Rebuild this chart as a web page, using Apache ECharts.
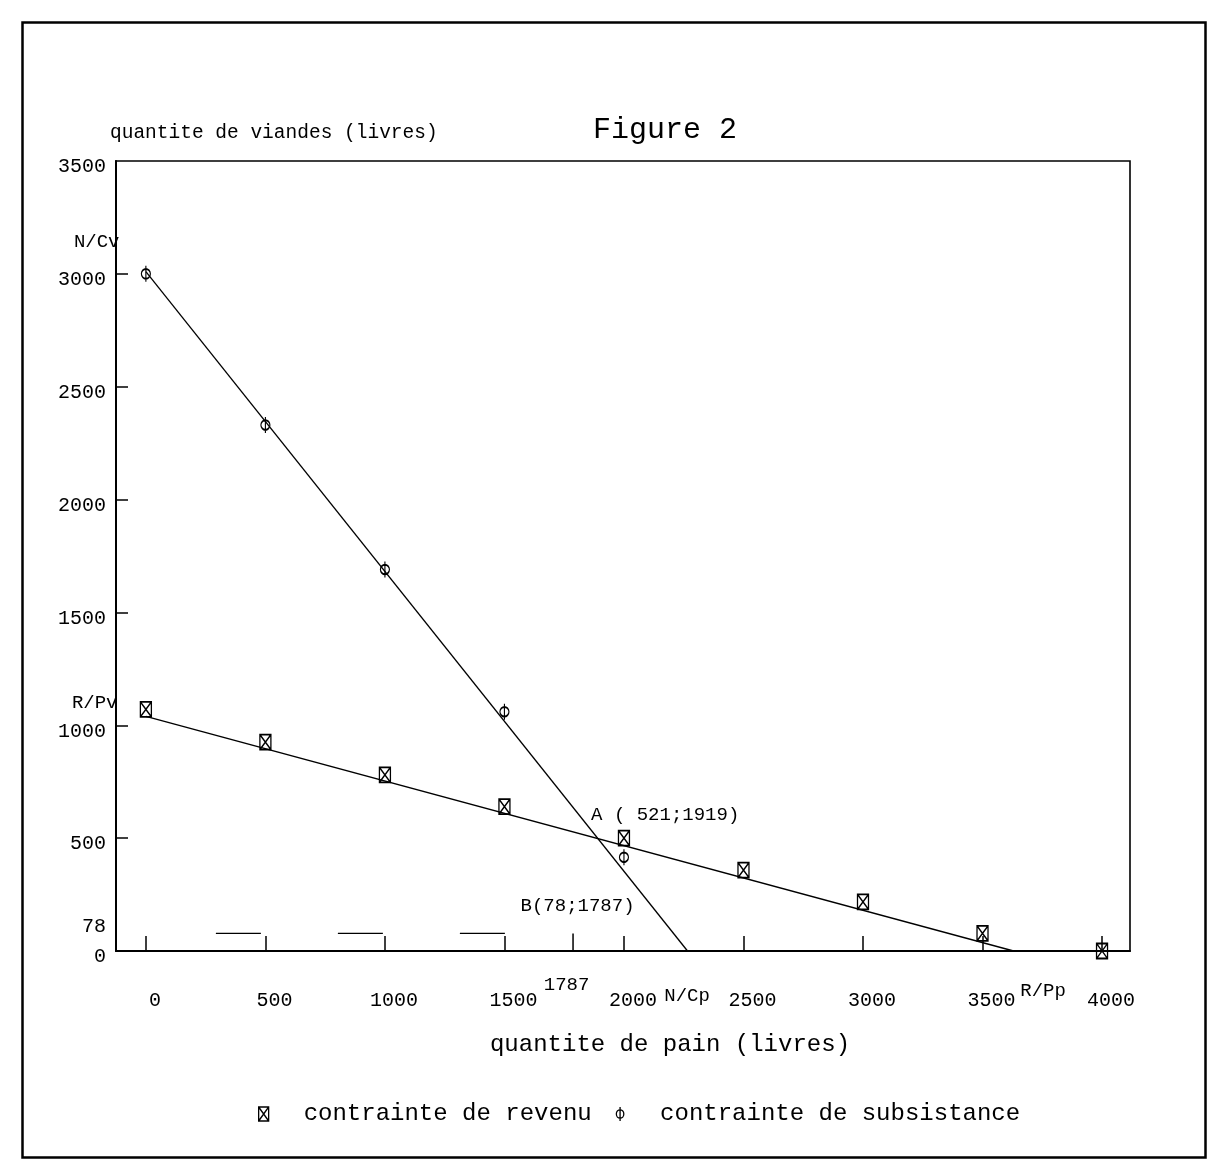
<!DOCTYPE html>
<html>
<head>
<meta charset="utf-8">
<title>Figure 2</title>
<script src="https://cdn.jsdelivr.net/npm/echarts@6/dist/echarts.min.js"></script>
<style>
html, body { margin: 0; padding: 0; background: #fff; }
#container { width: 1216px; height: 1162px; }
</style>
</head>
<body>
<div id="container"></div>
<script>
// axes
var breadTicks = [0, 500, 1000, 1500, 2000, 2500, 3000, 3500, 4000];	// quantite de pain
var meatLabels = [0, 78, 500, 1000, 1500, 2000, 2500, 3000, 3500];		// quantite de viandes
var meatTicks = [500, 1000, 1500, 2000, 2500, 3000];

// contrainte de revenu (points)
var revenuX = [0, 500, 1000, 1500, 2000, 2500, 3000, 3500, 4000];
var revenuY = [1070, 925, 780, 640, 500, 358, 218, 78, 0];
// contrainte de subsistance (points)
var subsistX = [0, 500, 1000, 1500, 2000];
var subsistY = [3000, 2330, 1690, 1060, 415];

// droites tracees
var revenuLineX = [0, 3630];
var revenuLineY = [1040, 0];
var subsistLineX = [0, 2266];
var subsistLineY = [3010, 0];

// points remarquables
var pointA = [1919, 521];
var pointB = [1787, 78];
var ncpX = 2266;		// N/Cp
var rppX = 3630;		// R/Pp
var ncvY = 3140;		// N/Cv
var rpvY = 1095;		// R/Pv

var FONT = 'Liberation Mono';
var INK = '#000';

var SQUARE_X = 'path://M0,0 L10,0 L10,14 L0,14 Z M0,0 L10,14 M10,0 L0,14';
var OVAL_BAR = 'path://M5,3 A4,4.5 0 1 1 5,12 A4,4.5 0 1 1 5,3 Z M5,0 L5,15';

function pairs(xs, ys) {
	var out = [];
	for (var i = 0; i < xs.length; i++) {
		out.push([xs[i], ys[i]]);
	}
	return out;
}

// petite etiquette posee sur un point des donnees
function note(pt, text, pos, align, vAlign, size) {
	return {
		type: 'scatter',
		silent: true,
		symbolSize: 1,
		itemStyle: { color: 'transparent', opacity: 1 },
		z: 5,
		data: [pt],
		label: {
			show: true,
			formatter: text,
			position: pos,
			align: align,
			verticalAlign: vAlign,
			fontFamily: FONT,
			fontSize: size || 19,
			color: INK
		}
	};
}

var dom = document.getElementById('container');
var myChart = echarts.init(dom);

var option = {
	backgroundColor: '#fff',
	animation: false,
	title: {
		text: 'Figure 2',
		left: 660,
		textAlign: 'center',
		top: 110,
		textStyle: { fontFamily: FONT, fontSize: 30, fontWeight: 'normal', color: INK }
	},
	legend: {
		left: 253,
		top: 1097,
		itemWidth: 10,
		itemHeight: 14,
		itemGap: 24,
		selectedMode: false,
		textStyle: { fontFamily: FONT, fontSize: 24, color: INK, padding: [0, 0, 0, 30] },
		data: [
			{ name: 'contrainte de revenu', icon: SQUARE_X,
				itemStyle: { color: 'transparent', borderColor: '#000', borderWidth: 1.3 } },
			{ name: 'contrainte de subsistance', icon: OVAL_BAR,
				itemStyle: { color: 'transparent', borderColor: '#000', borderWidth: 1.3 } }
		]
	},
	grid: {
		left: 116,
		right: 86,
		top: 161,
		bottom: 211,
		show: true,
		borderColor: '#000',
		borderWidth: 1.6
	},
	xAxis: {
		type: 'value',
		min: -125,
		max: 4117,
		name: 'quantite de pain (livres)',
		nameLocation: 'middle',
		nameGap: 94,
		nameTextStyle: { fontFamily: FONT, fontSize: 24, color: INK, verticalAlign: 'middle', padding: [0, 0, 0, 94] },
		axisLine: { lineStyle: { color: '#000', width: 2 } },
		axisTick: { inside: true, length: 15, customValues: breadTicks, lineStyle: { color: '#000', width: 1.5 } },
		axisLabel: {
			customValues: breadTicks,
			formatter: function (v) { return String(v); },
			margin: 40,
			padding: [0, 0, 0, 18],
			fontFamily: FONT,
			fontSize: 20,
			color: INK
		},
		splitLine: { show: false }
	},
	yAxis: {
		type: 'value',
		min: 0,
		max: 3500,
		name: 'quantite de viandes (livres)',
		nameLocation: 'end',
		nameGap: 28,
		nameTextStyle: { fontFamily: FONT, fontSize: 19.5, color: INK, align: 'left', verticalAlign: 'middle', padding: [0, 0, 0, -6] },
		axisLine: { onZero: false, lineStyle: { color: '#000', width: 2 } },
		axisTick: { inside: true, length: 12, customValues: meatTicks, lineStyle: { color: '#000', width: 1.5 } },
		axisLabel: {
			customValues: meatLabels,
			showMinLabel: true,
			hideOverlap: false,
			formatter: function (v) {
				return v === 78 ? '{hi|78}' : '{lo|' + v + '}';
			},
			rich: {
				lo: { fontFamily: FONT, fontSize: 20, color: INK, padding: [12, 0, 0, 0] },
				hi: { fontFamily: FONT, fontSize: 20, color: INK, padding: [0, 0, 14, 0] }
			},
			margin: 10,
			fontFamily: FONT,
			fontSize: 20,
			color: INK
		},
		splitLine: { show: false }
	},
	graphic: [{
		// cadre de la page
		type: 'rect',
		left: 20,
		top: 20,
		shape: { width: 1183, height: 1135 },
		style: { fill: 'none', stroke: '#000', lineWidth: 2.5 },
		silent: true
	}],
	series: [
		{
			name: 'droite revenu',
			type: 'line',
			data: pairs(revenuLineX, revenuLineY),
			showSymbol: false,
			silent: true,
			lineStyle: { color: '#000', width: 1.3 }
		},
		{
			name: 'droite subsistance',
			type: 'line',
			data: pairs(subsistLineX, subsistLineY),
			showSymbol: false,
			silent: true,
			lineStyle: { color: '#000', width: 1.3 }
		},
		{
			name: 'B tirets',
			type: 'line',
			data: [[0, pointB[1]], [pointB[0], pointB[1]]],
			showSymbol: false,
			silent: true,
			lineStyle: { color: '#000', width: 1.2, type: [45, 77], dashOffset: 52 }
		},
		{
			name: 'B vertical',
			type: 'line',
			data: [[pointB[0], pointB[1]], [pointB[0], 0]],
			showSymbol: false,
			silent: true,
			lineStyle: { color: '#000', width: 1.5 }
		},
		{
			name: 'contrainte de revenu',
			type: 'scatter',
			symbol: SQUARE_X,
			symbolSize: [11, 15],
			itemStyle: { color: 'transparent', borderColor: '#000', borderWidth: 1.5, opacity: 1 },
			data: pairs(revenuX, revenuY),
			z: 4
		},
		{
			name: 'contrainte de subsistance',
			type: 'scatter',
			symbol: OVAL_BAR,
			symbolSize: [9, 16],
			itemStyle: { color: 'transparent', borderColor: '#000', borderWidth: 1.5, opacity: 1 },
			data: pairs(subsistX, subsistY),
			z: 4
		},
		note(pointA, 'A ( 521;1919)', [-13, -18], 'left', 'middle'),
		note(pointB, 'B(78;1787)', [5, -27], 'center', 'middle'),
		note([pointB[0], 0], '1787', [-6, 34], 'center', 'middle'),
		note([ncpX, 0], 'N/Cp', [0, 45], 'center', 'middle'),
		note([rppX, 0], 'R/Pp', [30, 40], 'center', 'middle'),
		note([-125, ncvY], 'N/Cv', [4, 0], 'right', 'middle'),
		note([-125, rpvY], 'R/Pv', [2, 0], 'right', 'middle')
	]
};

myChart.setOption(option);
</script>
</body>
</html>
